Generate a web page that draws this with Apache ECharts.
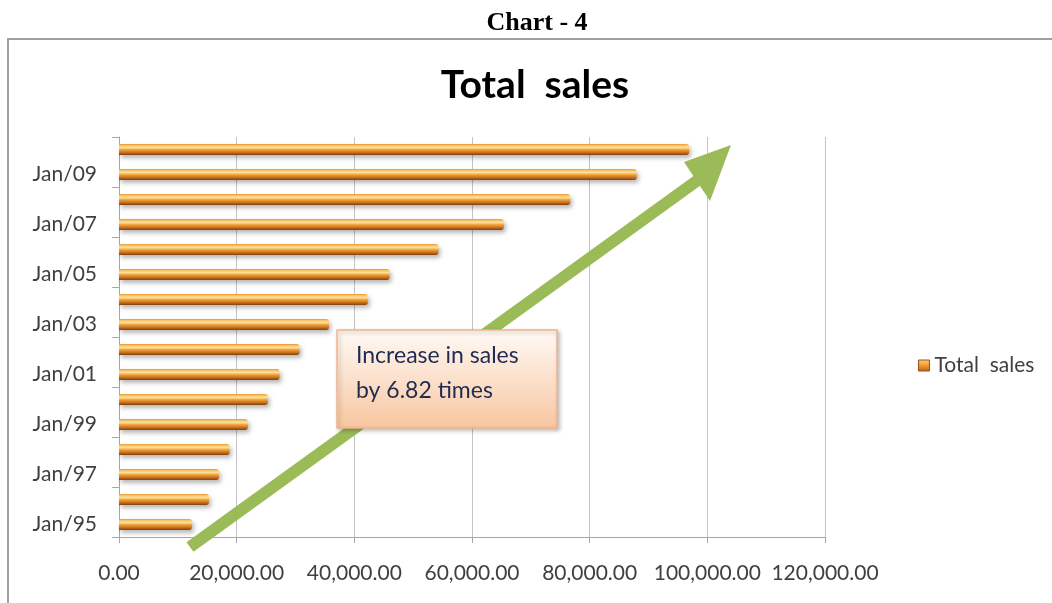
<!DOCTYPE html>
<html>
<head>
<meta charset="utf-8">
<title>Total sales</title>
<script src="https://cdn.jsdelivr.net/npm/echarts@6/dist/echarts.min.js"></script>
<style>
  html, body { margin: 0; padding: 0; background: #ffffff; }
  #chart { width: 1052px; height: 603px; }
</style>
</head>
<body>
<div id="chart"></div>
<script>
// Yearly totals, January of each year
const categories = ['Jan/95', 'Jan/96', 'Jan/97', 'Jan/98', 'Jan/99', 'Jan/00', 'Jan/01', 'Jan/02',
                    'Jan/03', 'Jan/04', 'Jan/05', 'Jan/06', 'Jan/07', 'Jan/08', 'Jan/09', 'Jan/10'];
const totalSales = [12400, 15300, 17000, 18800, 21900, 25300, 27300, 30700,
                    35700, 42300, 46000, 54300, 65400, 76700, 88000, 96900];
const salesTicks = [0, 20000, 40000, 60000, 80000, 100000, 120000];

const seriesName = 'Total  sales';
const pageTitle = 'Chart - 4';
const noteLines = ['Increase in sales', 'by 6.82 times'];

const fmt = v => v.toLocaleString('en-US', { minimumFractionDigits: 2, maximumFractionDigits: 2 });

const barFill = new echarts.graphic.LinearGradient(0, 0, 0, 1, [
  { offset: 0.00, color: '#e9952f' },
  { offset: 0.15, color: '#f9c66e' },
  { offset: 0.33, color: '#fde09a' },
  { offset: 0.52, color: '#f0a23a' },
  { offset: 0.78, color: '#c86f1c' },
  { offset: 1.00, color: '#7e3f10' }
]);

const legendFill = new echarts.graphic.LinearGradient(0, 0, 0, 1, [
  { offset: 0.0, color: '#fbd27a' },
  { offset: 0.5, color: '#ee9a2e' },
  { offset: 1.0, color: '#b9621a' }
]);

const chart = echarts.init(document.getElementById('chart'), null, { renderer: 'canvas' });

chart.setOption({
  animation: false,
  backgroundColor: '#ffffff',
  grid: { left: 119, right: 227, top: 137, bottom: 66, containLabel: false },
  legend: {
    data: [{ name: seriesName, icon: 'rect' }],
    left: 913,
    top: 350,
    itemWidth: 11,
    itemHeight: 11,
    itemGap: 6,
    itemStyle: { color: legendFill, borderColor: '#94521a', borderWidth: 1, shadowBlur: 0 },
    textStyle: { fontFamily: 'Lato', fontSize: 21, color: '#404040' }
  },
  xAxis: {
    type: 'value',
    min: salesTicks[0],
    max: salesTicks[salesTicks.length - 1],
    interval: salesTicks[1] - salesTicks[0],
    axisLine: { show: true, lineStyle: { color: '#a6a6a6', width: 1 } },
    axisTick: { show: true, length: 6, lineStyle: { color: '#a6a6a6' } },
    splitLine: { show: true, lineStyle: { color: '#c4c4c4', width: 1 } },
    axisLabel: {
      formatter: v => fmt(v),
      fontFamily: 'Lato', fontSize: 21, color: '#404040', margin: 26
    }
  },
  yAxis: {
    type: 'category',
    data: categories,
    boundaryGap: true,
    axisLine: { show: true, lineStyle: { color: '#a6a6a6', width: 1 } },
    axisTick: { show: true, interval: 1, length: 7, lineStyle: { color: '#a6a6a6' } },
    axisLabel: { interval: 1, fontFamily: 'Lato', fontSize: 21, color: '#404040', margin: 22 },
    splitLine: { show: false }
  },
  series: [{
    name: seriesName,
    type: 'bar',
    data: totalSales,
    barWidth: 11,
    itemStyle: {
      color: barFill,
      borderRadius: [0, 3, 3, 0],
      shadowColor: 'rgba(0,0,0,0.28)',
      shadowBlur: 4,
      shadowOffsetX: 2,
      shadowOffsetY: 3
    }
  }],
  graphic: [
    // outer frame of the chart area
    {
      type: 'rect', z: 0, silent: true,
      shape: { x: 8, y: 39, width: 1100, height: 620 },
      style: { fill: 'none', stroke: '#a0a0a0', lineWidth: 2 }
    },
    {
      type: 'text', z: 10, silent: true,
      x: 537, y: 23,
      style: { text: pageTitle, font: 'bold 26px "Liberation Serif", "Times New Roman", serif',
               fill: '#000000', textAlign: 'center', textVerticalAlign: 'middle' }
    },
    {
      type: 'text', z: 10, silent: true,
      x: 535, y: 85,
      style: { text: seriesName, font: 'bold 39px Lato, sans-serif',
               fill: '#000000', textAlign: 'center', textVerticalAlign: 'middle' }
    },
    // growth arrow
    {
      type: 'polyline', z: 20, silent: true,
      shape: { points: [[190, 547], [698, 180]] },
      style: { stroke: '#9bbb59', lineWidth: 12, lineCap: 'butt' }
    },
    {
      type: 'polygon', z: 20, silent: true,
      shape: { points: [[731, 145], [684, 162], [710, 201]] },
      style: { fill: '#9bbb59' }
    },
    // annotation box
    {
      type: 'rect', z: 30, silent: true,
      shape: { x: 337, y: 330, width: 220, height: 98 },
      style: {
        fill: new echarts.graphic.LinearGradient(0, 0, 0, 1, [
          { offset: 0, color: '#fffaf6' },
          { offset: 1, color: '#f8c6a0' }
        ]),
        stroke: '#f2b48a', lineWidth: 1.5,
        shadowColor: 'rgba(0,0,0,0.25)', shadowBlur: 4, shadowOffsetX: 2, shadowOffsetY: 2
      }
    },
    {
      type: 'text', z: 31, silent: true,
      x: 356, y: 338,
      style: { text: noteLines.join('\n'), font: '23px Lato, sans-serif', lineHeight: 35,
               fill: '#1f2b50', textAlign: 'left', textVerticalAlign: 'top' }
    }
  ]
});
</script>
</body>
</html>
